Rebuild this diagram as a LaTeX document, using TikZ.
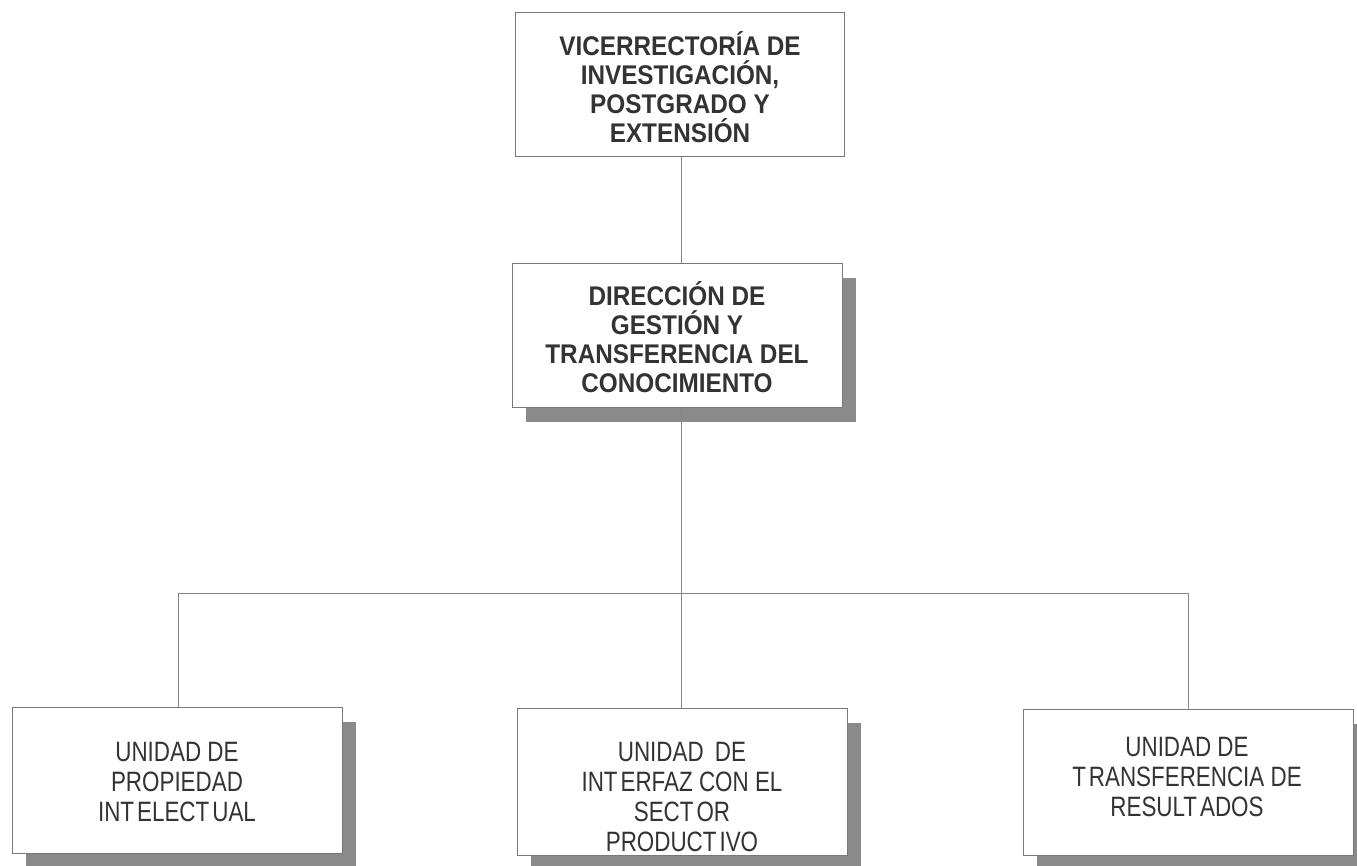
\documentclass[tikz,border=0pt]{standalone}
\usepackage{fontspec}
\setmainfont{Liberation Sans}
\newfontfamily\narrowsans{Liberation Sans}[FakeStretch=0.8]
\newfontfamily\boldnarrow{Liberation Sans Bold}[FakeStretch=0.9]
\usetikzlibrary{shadows}
\definecolor{boxgray}{HTML}{787878}
\definecolor{linegray}{HTML}{858585}
\definecolor{shadowgray}{HTML}{8A8A8A}
\definecolor{textgray}{HTML}{333333}
\begin{document}
\begin{tikzpicture}[x=1pt,y=-1pt,
  box/.style={draw=boxgray, line width=1pt, fill=white, inner sep=0pt,
    minimum width=330pt, minimum height=145pt},
  shadowed/.style={drop shadow={shadow xshift=14pt, shadow yshift=-15pt, fill=shadowgray, opacity=1}},
  boldtxt/.style={align=center, text=textgray, inner sep=0pt,
    font=\boldnarrow\fontsize{27}{29}\selectfont},
  regtxt/.style={align=center, text=textgray, inner sep=0pt,
    font=\narrowsans\fontsize{28}{30}\selectfont},
  conn/.style={draw=linegray, line width=0.8pt}]
\useasboundingbox (0,0) rectangle (1357,865);
\clip (0,0) rectangle (1357,865);
\fill[white] (0,0) rectangle (1357,865);

% boxes
\node[box, minimum width=329pt, minimum height=144pt] (vice) at (679.5,84) {};
\node[box, shadowed, minimum height=144pt] (dir) at (677,335) {};
\node[box, shadowed, minimum height=146pt] (u1) at (177,780) {};
\node[box, shadowed, minimum height=147pt] (u2) at (682,781.5) {};
\node[box, shadowed, minimum height=146pt] (u3) at (1188,782) {};

% texts
\node[boldtxt] (vicet) at (680,87) {VICERRECTORÍA DE\\INVESTIGACIÓN,\\POSTGRADO Y\\EXTENSIÓN};
\node[boldtxt] (dirt) at (677,337.5) {DIRECCIÓN DE\\GESTIÓN Y\\TRANSFERENCIA DEL\\CONOCIMIENTO};
\node[regtxt] (u1t) at (177,782) {UNIDAD DE\\PROPIEDAD\\INT\kern3pt ELECT\kern3pt UAL};
\node[regtxt] (u2t) at (682,797) {UNIDAD\kern5pt{} DE\\INT\kern3pt ERFAZ CON EL\\SECT\kern3pt OR\\PRODUCT\kern3pt IVO};
\node[regtxt] (u3t) at (1187,777) {UNIDAD DE\\T\kern3pt RANSFERENCIA DE\\RESULT\kern3pt ADOS};
\draw[boxgray, line width=1pt] (u2.south west) -- (u2.south east);

% connectors
\coordinate (trunk) at (681,593);
\coordinate (busL) at (178,593);
\coordinate (busR) at (1188,593);
\draw[conn] (trunk |- vice.south) -- (trunk |- dir.north);
\draw[conn] (trunk |- dir.south) -- (trunk);
\draw[conn] (busL) -- (busR);
\draw[conn] (busL) -- (busL |- u1.north);
\draw[conn] (trunk) -- (trunk |- u2.north);
\draw[conn] (busR) -- (busR |- u3.north);
\end{tikzpicture}
\end{document}
